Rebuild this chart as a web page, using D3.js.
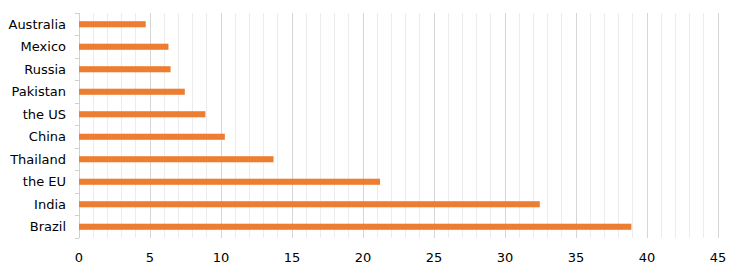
<!DOCTYPE html>
<html>
<head>
<meta charset="UTF-8">
<style>
body { margin: 0; background: #fff; }
text { font-family: "DejaVu Sans", Verdana, sans-serif; }
</style>
</head>
<body>
<script src="https://d3js.org/d3.v7.min.js"></script>
<script>

// data
var countries = ['Australia', 'Mexico', 'Russia', 'Pakistan', 'the US',
                 'China', 'Thailand', 'the EU', 'India', 'Brazil']
var values = [4.7, 6.3, 6.45, 7.45, 8.9, 10.27, 13.7, 21.2, 32.45, 38.9]
var xTicks = [0, 5, 10, 15, 20, 25, 30, 35, 40, 45]

// canvas
var svgWidth = 741,
    svgHeight = 272,
    margin = {top: 13, bottom: 34, left: 79, right: 23},
    chartWidth = svgWidth - margin.left - margin.right,
    chartHeight = svgHeight - margin.top - margin.bottom

var svg = d3.select('body').append('svg')
    .attr('width', svgWidth)
    .attr('height', svgHeight)

var g = svg.append('g')
    .attr('transform', 'translate(' + margin.left + ',' + margin.top + ')')

var xScale = d3.scaleLinear().domain([0, 45]).range([0, chartWidth])
var yScale = d3.scaleBand().domain(countries).range([0, chartHeight]).paddingInner(0.73).paddingOuter(0.365)
var band = d3.scaleBand().domain(countries).range([0, chartHeight])

// minor gridlines every 1
g.selectAll('.minor').data(d3.range(1, 46).filter(d => d % 5 != 0))
  .enter().append('line')
    .attr('x1', d => xScale(d)).attr('x2', d => xScale(d))
    .attr('y1', 0).attr('y2', chartHeight)
    .attr('stroke', '#ececec').attr('stroke-width', 1)
    .attr('shape-rendering', 'crispEdges')

// major gridlines
g.selectAll('.major').data(xTicks.slice(1))
  .enter().append('line')
    .attr('x1', d => xScale(d)).attr('x2', d => xScale(d))
    .attr('y1', 0).attr('y2', chartHeight)
    .attr('stroke', '#d6d6d6').attr('stroke-width', 1)
    .attr('shape-rendering', 'crispEdges')

// left axis with ticks at the band boundaries
g.append('line')
    .attr('x1', 0).attr('x2', 0).attr('y1', 0).attr('y2', chartHeight)
    .attr('stroke', '#d0d0d0').attr('shape-rendering', 'crispEdges')
g.selectAll('.ytick').data(countries.concat(['end']))
  .enter().append('line')
    .attr('x1', -4).attr('x2', 0)
    .attr('y1', (d, i) => i * band.step()).attr('y2', (d, i) => i * band.step())
    .attr('stroke', '#d0d0d0').attr('shape-rendering', 'crispEdges')

// bars
g.selectAll('rect').data(values)
  .enter().append('rect')
    .attr('x', 0)
    .attr('y', (d, i) => yScale(countries[i]))
    .attr('width', d => xScale(d))
    .attr('height', yScale.bandwidth())
    .attr('fill', '#ED7D31')

// category labels
g.selectAll('.ylab').data(countries)
  .enter().append('text')
    .attr('x', -13)
    .attr('y', d => band(d) + band.bandwidth() / 2)
    .attr('dy', '0.35em')
    .attr('text-anchor', 'end')
    .attr('font-size', '13px')
    .attr('fill', '#000')
    .text(d => d)

// x labels
g.selectAll('.xlab').data(xTicks)
  .enter().append('text')
    .attr('x', d => xScale(d))
    .attr('y', chartHeight + 19)
    .attr('dy', '0.35em')
    .attr('text-anchor', 'middle')
    .attr('font-size', '13px')
    .attr('fill', '#000')
    .text(d => d)

</script>
</body>
</html>
